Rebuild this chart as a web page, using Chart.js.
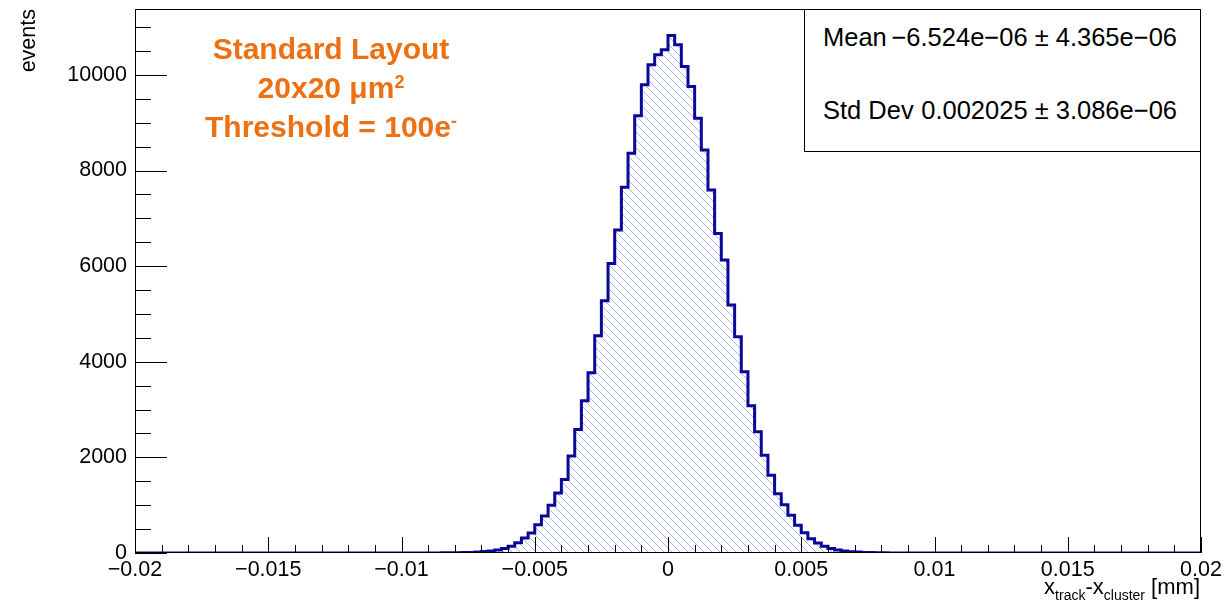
<!DOCTYPE html>
<html>
<head>
<meta charset="utf-8">
<script src="https://cdn.jsdelivr.net/npm/chart.js@4.4.0/dist/chart.umd.min.js"></script>
<style>
  html, body { margin: 0; padding: 0; background: #fff; }
  #wrap { position: relative; width: 1232px; height: 606px; font-family: "Liberation Sans", Arial, Helvetica, sans-serif; color: #000; }
  #wrap canvas { position: absolute; left: 0; top: 0; }
  .note { position: absolute; left: 181px; top: 29px; width: 300px; text-align: center; color: #ec7014;
          font-weight: bold; font-size: 30px; line-height: 39px; white-space: nowrap; }
  .note sup { font-size: 0.6em; line-height: 0; vertical-align: 0.55em; }
  .stats { position: absolute; left: 804px; top: 9px; width: 397px; height: 143px; box-sizing: border-box;
           border: 1px solid #000; background: #fff; font-size: 25.5px; line-height: 1; }
  .stats span { position: absolute; white-space: nowrap; }
  .xtitle { position: absolute; right: 32px; top: 576px; font-size: 22px; line-height: 1; white-space: nowrap; }
  .xtitle .sub { font-size: 14px; line-height: 0; vertical-align: -6px; }
</style>
</head>
<body>
<div id="wrap">
  <canvas id="histo" width="1232" height="606"></canvas>
  <div class="note">Standard Layout<br>20x20 μm<sup>2</sup><br>Threshold = 100e<sup>-</sup></div>
  <div class="stats">
    <span style="left:18px; top:15px">Mean</span>
    <span style="right:23px; top:15px">−6.524e−06 ± 4.365e−06</span>
    <span style="left:18px; top:88px">Std Dev</span>
    <span style="right:23px; top:88px">0.002025 ± 3.086e−06</span>
  </div>
  <div class="xtitle">x<span class="sub">track</span>-x<span class="sub">cluster</span> [mm]</div>
</div>
<script>
// histogram range and binning
const xMin = -0.02;
const xMax = 0.02;
const yMax = 11380;
const yTicks = [0, 2000, 4000, 6000, 8000, 10000];
const xTicks = [-0.02, -0.015, -0.01, -0.005, 0, 0.005, 0.01, 0.015, 0.02];

// entries per bin, 160 bins of 0.00025 mm
const counts = [
  0, 0, 0, 0, 0, 0, 0, 0, 0, 0,
  0, 0, 0, 0, 0, 0, 0, 0, 0, 0,
  0, 0, 0, 0, 0, 0, 0, 0, 0, 0,
  0, 0, 0, 0, 0, 0, 0, 0, 0, 0,
  0, 0, 1, 1, 1, 2, 3, 4, 6, 9,
  13, 20, 30, 44, 65, 94, 140, 216, 314, 419,
  593, 775, 999, 1256, 1535, 2031, 2582, 3183, 3769, 4544,
  5277, 6058, 6757, 7650, 8361, 9145, 9794, 10213, 10422, 10527,
  10826, 10631, 10177, 9758, 9094, 8433, 7595, 6686, 6129, 5187,
  4523, 3790, 3078, 2534, 2046, 1627, 1242, 1011, 789, 580,
  425, 300, 210, 140, 95, 62, 42, 28, 19, 12,
  8, 5, 4, 2, 2, 1, 1, 0, 0, 0,
  0, 0, 0, 0, 0, 0, 0, 0, 0, 0,
  0, 0, 0, 0, 0, 0, 0, 0, 0, 0,
  0, 0, 0, 0, 0, 0, 0, 0, 0, 0,
  0, 0, 0, 0, 0, 0, 0, 0, 0, 0
];

const binWidth = (xMax - xMin) / counts.length;
const points = counts.map((c, i) => ({ x: xMin + i * binWidth, y: c }));
points.push({ x: xMax, y: 0 });

// diagonal hatch like ROOT fill style
function hatchPattern() {
  const c = document.createElement('canvas');
  c.width = 8; c.height = 8;
  const g = c.getContext('2d');
  g.fillStyle = '#a9b8e8';
  for (let i = 0; i < 8; i++) g.fillRect(i, i, 1, 1);
  return g.createPattern(c, 'repeat');
}

// frame + inside ticks, ROOT style
const frameTicks = {
  id: 'frameTicks',
  afterDatasetsDraw(chart) {
    const { ctx, chartArea: a, scales: { x, y } } = chart;
    ctx.save();
    ctx.strokeStyle = '#000';
    ctx.lineWidth = 1;
    ctx.strokeRect(a.left + 0.5, a.top + 0.5, a.right - a.left - 1, a.bottom - a.top - 1);
    ctx.beginPath();
    for (let v = 0; v <= y.max; v += 500) {
      const py = Math.round(y.getPixelForValue(v)) + 0.5;
      const len = v % 2000 === 0 ? 32 : 16;
      ctx.moveTo(a.left, py);
      ctx.lineTo(a.left + len, py);
    }
    for (let k = -20; k <= 20; k++) {
      const px = Math.round(x.getPixelForValue(k / 1000)) + 0.5;
      const len = k % 5 === 0 ? 16 : 8;
      ctx.moveTo(px, a.bottom);
      ctx.lineTo(px, a.bottom - len);
    }
    ctx.stroke();
    ctx.restore();
  }
};

// keep the plot frame where ROOT put it
function noEdgePadding(s) {
  s.paddingTop = 0; s.paddingBottom = 0;
  s.paddingLeft = 0; s.paddingRight = 0;
}

const font = { family: '"Liberation Sans", Arial, Helvetica, sans-serif', size: 21.5 };

new Chart(document.getElementById('histo'), {
  type: 'line',
  data: {
    datasets: [{
      data: points,
      stepped: 'before',
      borderColor: '#08089a',
      borderWidth: 3,
      borderJoinStyle: 'miter',
      backgroundColor: hatchPattern(),
      fill: 'origin',
      pointRadius: 0,
      tension: 0
    }]
  },
  options: {
    responsive: false,
    animation: false,
    layout: { padding: { top: 9, right: 31, left: 0, bottom: 0 } },
    plugins: { legend: { display: false }, tooltip: { enabled: false } },
    scales: {
      x: {
        type: 'linear',
        min: xMin,
        max: xMax,
        grid: { display: false, drawTicks: false },
        border: { display: false },
        afterFit: s => { s.height = 53; noEdgePadding(s); },
        afterBuildTicks: s => { s.ticks = xTicks.map(v => ({ value: v })); },
        ticks: {
          padding: 4,
          maxRotation: 0,
          autoSkip: false,
          color: '#000',
          font,
          callback: v => String(Math.round(v * 1000) / 1000 || 0).replace('-', '\u2212')
        }
      },
      y: {
        min: 0,
        max: yMax,
        grid: { display: false, drawTicks: false },
        border: { display: false },
        afterFit: s => { s.width = 135; noEdgePadding(s); },
        afterBuildTicks: s => { s.ticks = yTicks.map(v => ({ value: v })); },
        title: {
          display: true,
          text: 'events',
          align: 'end',
          color: '#000',
          font,
          padding: { top: 16, bottom: 0 }
        },
        ticks: {
          padding: 8,
          color: '#000',
          font,
          callback: v => String(v)
        }
      }
    }
  },
  plugins: [frameTicks]
});
</script>
</body>
</html>
